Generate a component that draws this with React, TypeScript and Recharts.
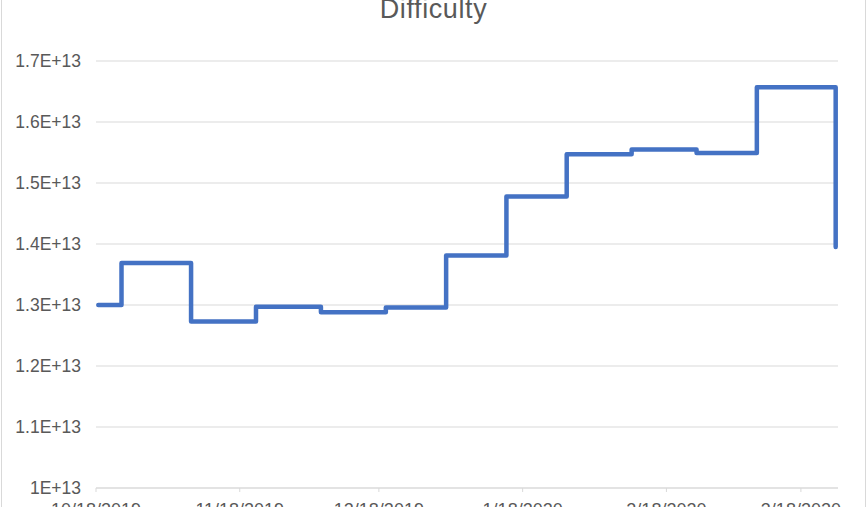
import React from 'react';
import { LineChart, Line, XAxis, YAxis, CartesianGrid } from 'recharts';

// difficulty adjustment dates and values (step chart)
const adjustDates = [
  '2019-10-18', '2019-10-23', '2019-11-07', '2019-11-21', '2019-12-05',
  '2019-12-19', '2020-01-01', '2020-01-14', '2020-01-27', '2020-02-10',
  '2020-02-24', '2020-03-08', '2020-03-25',
];
const difficulty = [
  1.300e13, 1.369e13, 1.273e13, 1.297e13, 1.288e13,
  1.296e13, 1.381e13, 1.478e13, 1.547e13, 1.555e13,
  1.549e13, 1.657e13, 1.395e13,
];
const tickDates = ['2019-10-18', '2019-11-18', '2019-12-18', '2020-01-18', '2020-02-18', '2020-03-18'];
const tickLabels = ['10/18/2019', '11/18/2019', '12/18/2019', '1/18/2020', '2/18/2020', '3/18/2020'];
const yTicks = [1e13, 1.1e13, 1.2e13, 1.3e13, 1.4e13, 1.5e13, 1.6e13, 1.7e13];
const yLabels = ['1E+13', '1.1E+13', '1.2E+13', '1.3E+13', '1.4E+13', '1.5E+13', '1.6E+13', '1.7E+13'];

const DAY = 86400000;
const toMs = (d: string) => Date.UTC(+d.slice(0, 4), +d.slice(5, 7) - 1, +d.slice(8, 10));

// date axis "between tick marks": each point sits in the middle of its day
const data = adjustDates.map((d, i) => ({ t: toMs(d) + DAY / 2, value: difficulty[i] }));
const xTicks = tickDates.map(toMs);
const domainStart = toMs('2019-10-18');
const domainEnd = toMs('2020-03-26');

const font = '"Liberation Sans", Arial, sans-serif';

export default function App() {
  return (
    <div style={{ position: 'fixed', left: 0, top: 0, width: 867, height: 507, overflow: 'hidden', background: '#fff', fontFamily: font }}>
      <div style={{ position: 'absolute', left: 1, top: -10, width: 863, height: 530, border: '1px solid #d9d9d9' }} />
      <div style={{ position: 'absolute', left: 0, width: 867, top: -6, textAlign: 'center', fontSize: 27, letterSpacing: 0.6, color: '#595959', lineHeight: '30px' }}>
        Difficulty
      </div>
      <div style={{ position: 'absolute', left: 0, top: 0 }}>
        <LineChart width={867} height={507} data={data} margin={{ top: 61, right: 29, left: 0, bottom: 0 }}>
          <CartesianGrid vertical={false} stroke="#d9d9d9" strokeWidth={1.2} />
          <XAxis
            dataKey="t"
            type="number"
            scale="time"
            domain={[domainStart, domainEnd]}
            ticks={xTicks}
            tickFormatter={(v: number) => tickLabels[xTicks.indexOf(v)] ?? ''}
            axisLine={{ stroke: '#d9d9d9', strokeWidth: 1.2 }}
            tickLine={{ stroke: '#d9d9d9' }}
            tickSize={4}
            tickMargin={11}
            height={19}
            interval={0}
            tick={{ fill: '#595959', fontSize: 18, fontFamily: font }}
          />
          <YAxis
            type="number"
            domain={[1e13, 1.7e13]}
            ticks={yTicks}
            tickFormatter={(v: number) => yLabels[yTicks.indexOf(v)] ?? ''}
            axisLine={false}
            tickLine={false}
            tickSize={0}
            tickMargin={15}
            width={96}
            interval={0}
            tick={{ fill: '#595959', fontSize: 17.5, fontFamily: font }}
          />
          <Line
            type="stepAfter"
            dataKey="value"
            stroke="#4472c4"
            strokeWidth={4.5}
            strokeLinecap="round"
            strokeLinejoin="round"
            dot={false}
            isAnimationActive={false}
          />
        </LineChart>
      </div>
    </div>
  );
}
